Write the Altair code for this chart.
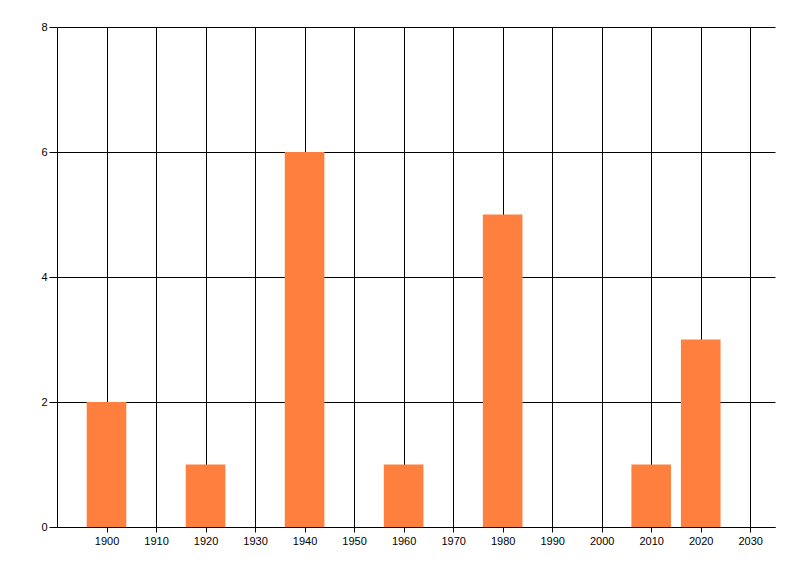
import altair as alt
import pandas as pd

years = [1900, 1920, 1940, 1960, 1980, 2010, 2020]
counts = [2, 1, 6, 1, 5, 1, 3]
x_ticks = list(range(1900, 2031, 10))
y_ticks = [0, 2, 4, 6, 8]

df = pd.DataFrame({"year": years, "count": counts})

font = "Liberation Sans"

chart = (
    alt.Chart(df)
    .transform_calculate(x0="datum.year - 4", x1="datum.year + 4")
    .mark_bar(color="#FF7F3F")
    .encode(
        x=alt.X(
            "x0:Q",
            scale=alt.Scale(domain=[1890, 2035], nice=False, zero=False, padding=0),
            axis=alt.Axis(
                values=x_ticks,
                format="d",
                title=None,
                grid=True,
                gridColor="black",
                gridOpacity=1,
                gridWidth=1,
                domainColor="black",
                tickColor="black",
                tickSize=5,
                labelPadding=3,
                labelFont=font,
                labelFontSize=11,
                labelColor="black",
            ),
        ),
        x2="x1:Q",
        y=alt.Y(
            "count:Q",
            scale=alt.Scale(domain=[0, 8], nice=False, padding=0),
            axis=alt.Axis(
                values=y_ticks,
                title=None,
                grid=True,
                gridColor="black",
                gridOpacity=1,
                gridWidth=1,
                domainColor="black",
                tickColor="black",
                tickSize=8,
                labelPadding=2,
                labelFont=font,
                labelFontSize=11,
                labelColor="black",
            ),
        ),
        y2=alt.datum(0),
    )
    .properties(
        width=718,
        height=500,
        autosize=alt.AutoSizeParams(type="none"),
        padding={"left": 49, "top": 19, "right": 17, "bottom": 41},
    )
    .configure_view(stroke=None)
)

chart.save("out.html", embed_options={"renderer": "svg", "actions": False})
